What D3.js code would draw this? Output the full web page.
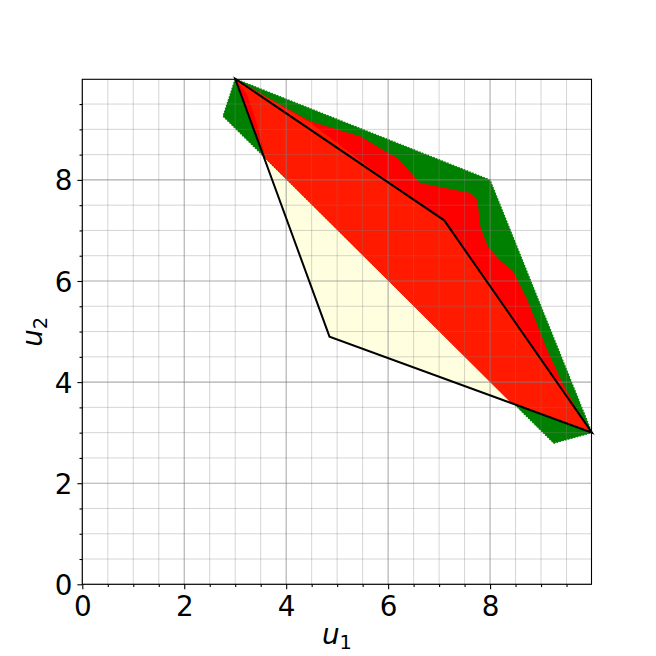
<!DOCTYPE html>
<html>
<head>
<meta charset="utf-8">
<script src="https://cdn.jsdelivr.net/npm/d3@7"></script>
<style>
  html, body { margin: 0; padding: 0; background: #fff; }
  svg { display: block; }
</style>
</head>
<body>
<svg id="chart" width="656" height="656"></svg>
<script>
// ---- data ----
const xMajorTicks = [0, 2, 4, 6, 8];
const yMajorTicks = [0, 2, 4, 6, 8];
const minorTicks = [0.5, 1, 1.5, 2.5, 3, 3.5, 4.5, 5, 5.5, 6.5, 7, 7.5, 8.5, 9, 9.5];
const axisMax = 9.99;

// outer green set
const greenRegion = [[3, 10], [8, 8], [10, 3], [9.25, 2.79], [2.76, 9.26]];
// bright red set
const redRegion = [[3, 10], [3.55, 9.68], [4.47, 9.16], [5.46, 8.86], [6.05, 8.5], [6.18, 8.44],
  [6.63, 7.94], [7.62, 7.74], [7.75, 7.61], [7.78, 7.35], [7.81, 7.08], [7.95, 6.69],
  [8.18, 6.42], [8.45, 6.2], [8.73, 5.63], [9.12, 4.64], [9.42, 3.98], [9.71, 3.45],
  [10, 3], [8.42, 3.58], [3.6, 8.42]];
// orange-red set
const orangeRegion = [[3, 10], [4.47, 9.13], [5.6, 8.27], [7.1, 7.22], [10, 3], [8.42, 3.58],
  [3.6, 8.42], [3.43, 9.1], [3.23, 9.69]];
// black quadrilateral (filled light yellow)
const blackPolygon = [[3, 10], [7.1, 7.2], [10, 3], [4.85, 4.9]];

// ---- layout ----
const svg = d3.select("#chart");
const x = d3.scaleLinear().domain([0, axisMax]).range([82.3, 591.5]);
const y = d3.scaleLinear().domain([0, axisMax]).range([584.3, 79.3]);
const fontSize = 27.8;

const toPath = pts => "M" + pts.map(p => x(p[0]) + "," + y(p[1])).join("L") + "Z";

const plot = svg.append("g");
plot.append("path").attr("d", toPath(blackPolygon)).attr("fill", "#ffffe0");
plot.append("path").attr("d", toPath(greenRegion)).attr("fill", "#008000")
  .attr("stroke", "#008000").attr("stroke-width", 1.2).attr("stroke-dasharray", "1.5,1.5");
plot.append("path").attr("d", toPath(redRegion)).attr("fill", "#ff0000");
plot.append("path").attr("d", toPath(orangeRegion)).attr("fill", "#ff1a00");

// grid
const grid = svg.append("g");
minorTicks.forEach(t => {
  grid.append("line").attr("x1", x(t)).attr("x2", x(t)).attr("y1", y(0)).attr("y2", y(axisMax))
    .attr("stroke", "#808080").attr("stroke-opacity", 0.33).attr("stroke-width", 1);
  grid.append("line").attr("y1", y(t)).attr("y2", y(t)).attr("x1", x(0)).attr("x2", x(axisMax))
    .attr("stroke", "#808080").attr("stroke-opacity", 0.33).attr("stroke-width", 1);
});
xMajorTicks.forEach(t => {
  grid.append("line").attr("x1", x(t)).attr("x2", x(t)).attr("y1", y(0)).attr("y2", y(axisMax))
    .attr("stroke", "#808080").attr("stroke-opacity", 0.65).attr("stroke-width", 1.1);
});
yMajorTicks.forEach(t => {
  grid.append("line").attr("y1", y(t)).attr("y2", y(t)).attr("x1", x(0)).attr("x2", x(axisMax))
    .attr("stroke", "#808080").attr("stroke-opacity", 0.65).attr("stroke-width", 1.1);
});

// black polygon outline
svg.append("path").attr("d", toPath(blackPolygon)).attr("fill", "none")
  .attr("stroke", "#000").attr("stroke-width", 2).attr("stroke-linejoin", "miter");

// axes with d3 axis generators
const xAxis = svg.append("g").attr("transform", `translate(0,${y(0)})`)
  .call(d3.axisBottom(x).tickValues(xMajorTicks).tickSize(4.9).tickPadding(4.5).tickFormat(d3.format("d")));
const xMinor = svg.append("g").attr("transform", `translate(0,${y(0)})`)
  .call(d3.axisBottom(x).tickValues(minorTicks).tickSize(2.8).tickFormat(""));
const yAxis = svg.append("g").attr("transform", `translate(${x(0)},0)`)
  .call(d3.axisLeft(y).tickValues(yMajorTicks).tickSize(4.9).tickPadding(5).tickFormat(d3.format("d")));
const yMinor = svg.append("g").attr("transform", `translate(${x(0)},0)`)
  .call(d3.axisLeft(y).tickValues(minorTicks).tickSize(2.8).tickFormat(""));

[xAxis, xMinor, yAxis, yMinor].forEach(g => {
  g.select(".domain").remove();
  g.selectAll(".tick line").attr("stroke", "#000").attr("stroke-width", 1.1);
  g.selectAll("text").attr("font-family", "DejaVu Sans").attr("font-size", fontSize).attr("fill", "#000");
});
xAxis.selectAll("text").attr("dy", null).attr("y", 32);
yAxis.selectAll("text").attr("dy", "0.36em");

// spines
svg.append("rect").attr("x", x(0)).attr("y", y(axisMax))
  .attr("width", x(axisMax) - x(0)).attr("height", y(0) - y(axisMax))
  .attr("fill", "none").attr("stroke", "#000").attr("stroke-width", 1.1);

// axis labels
const xl = svg.append("text").attr("x", (x(0) + x(axisMax)) / 2).attr("y", 643.5)
  .attr("text-anchor", "middle").attr("font-family", "DejaVu Sans").attr("font-size", fontSize);
xl.append("tspan").attr("font-style", "italic").text("u");
xl.append("tspan").attr("font-size", fontSize * 0.7).attr("dy", 5).text("1");

const yl = svg.append("text")
  .attr("transform", `translate(41.5,${(y(0) + y(axisMax)) / 2}) rotate(-90)`)
  .attr("text-anchor", "middle").attr("font-family", "DejaVu Sans").attr("font-size", fontSize);
yl.append("tspan").attr("font-style", "italic").text("u");
yl.append("tspan").attr("font-size", fontSize * 0.7).attr("dy", 5).text("2");
</script>
</body>
</html>
